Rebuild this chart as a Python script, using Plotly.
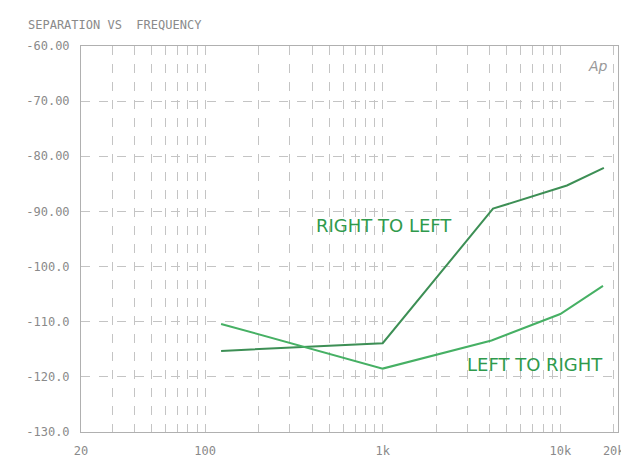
import plotly.graph_objects as go

# Data
freq_rl = [123, 1000, 4180, 10900, 17600]
sep_rl = [-115.3, -113.9, -89.5, -85.3, -82.1]

freq_lr = [123, 1000, 4100, 10000, 17400]
sep_lr = [-110.4, -118.5, -113.4, -108.6, -103.5]

y_ticks = [-60, -70, -80, -90, -100, -110, -120, -130]
y_labels = ["-60.00", "-70.00", "-80.00", "-90.00", "-100.0", "-110.0", "-120.0", "-130.0"]

x_grid = [20, 30, 40, 50, 60, 70, 80, 90,
          100, 200, 300, 400, 500, 600, 700, 800, 900,
          1000, 2000, 3000, 4000, 5000, 6000, 7000, 8000, 9000,
          10000, 20000]
x_label_map = {20: "20", 100: "100", 1000: "1k", 10000: "10k", 20000: "20k"}
x_labels = [x_label_map.get(v, "") for v in x_grid]

fig = go.Figure()
fig.add_trace(go.Scatter(x=freq_rl, y=sep_rl, mode="lines",
                         line=dict(color="#3d8f55", width=2), name="RIGHT TO LEFT",
                         showlegend=False))
fig.add_trace(go.Scatter(x=freq_lr, y=sep_lr, mode="lines",
                         line=dict(color="#46b064", width=2), name="LEFT TO RIGHT",
                         showlegend=False))

fig.add_annotation(x=3.01, y=-92.5, xref="x", yref="y", text="RIGHT TO LEFT",
                   showarrow=False, font=dict(family="DejaVu Sans", size=18, color="#2f9a4c"))
fig.add_annotation(x=3.86, y=-117.8, xref="x", yref="y", text="LEFT TO RIGHT",
                   showarrow=False, font=dict(family="DejaVu Sans", size=18, color="#2f9a4c"))
fig.add_annotation(x=0.985, y=0.975, xref="paper", yref="paper", text="<i>Ap</i>",
                   showarrow=False, xanchor="right", yanchor="top",
                   font=dict(family="DejaVu Sans", size=14, color="#999999"))

fig.update_layout(
    width=629, height=462,
    margin=dict(l=73, r=17, t=38, b=28),
    paper_bgcolor="white", plot_bgcolor="white",
    title=dict(text="SEPARATION VS  FREQUENCY", x=20 / 629, xanchor="left",
               y=1 - 17 / 462, yanchor="middle",
               font=dict(family="DejaVu Sans Mono", size=12, color="#8a8a8a")),
    font=dict(family="DejaVu Sans Mono", size=12, color="#8a8a8a"),
)
fig.update_xaxes(type="log", range=[1.30103, 4.325], tickvals=x_grid, ticktext=x_labels,
                 showgrid=True, gridcolor="#c4c4c4", griddash="dash", gridwidth=1,
                 showline=True, linecolor="#b0b0b0", mirror=True, zeroline=False,
                 ticks="", ticklabelstandoff=8)
fig.update_yaxes(range=[-130, -60], tickvals=y_ticks, ticktext=y_labels,
                 showgrid=True, gridcolor="#c4c4c4", griddash="dash", gridwidth=1,
                 showline=True, linecolor="#b0b0b0", mirror=True, zeroline=False,
                 ticks="", ticklabelstandoff=8)

fig.write_html("out.html")
